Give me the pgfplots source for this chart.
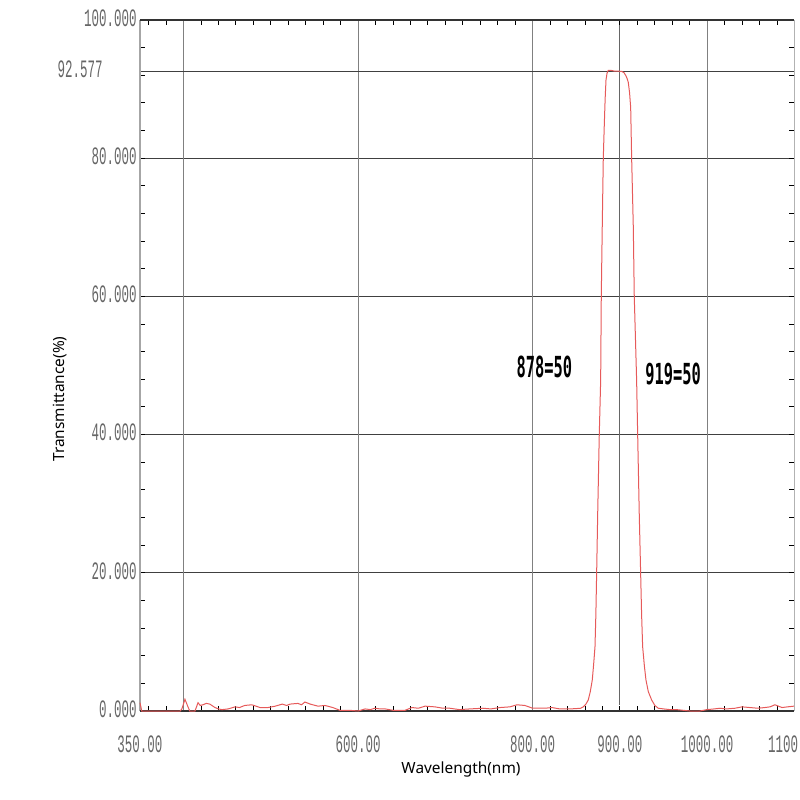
\documentclass[border=0pt]{standalone}
\usepackage{pgfplots}
\pgfplotsset{compat=1.18}
\usepackage{fontspec}
\setmainfont{Noto Sans}
\newfontfamily\tickfont[FakeStretch=0.5]{Liberation Mono}
\newfontfamily\annfont[FakeStretch=0.53]{DejaVu Sans Mono}
\definecolor{curvered}{RGB}{230,90,90}
\begin{document}
\begin{tikzpicture}
\path[use as bounding box] (0,0) rectangle (400pt,400pt);
\clip (0,0) rectangle (400pt,400pt);
\begin{axis}[
  at={(70pt,44.5pt)}, anchor=south west,
  scale only axis, width=327.25pt, height=345.5pt,
  xmin=350, xmax=1100, ymin=0, ymax=100,
  clip=false,
  axis line style={draw=none},
  xtick={350,600,800,900,1000,1100},
  xticklabels={350.00,600.00,800.00,900.00,1000.00,1100.00},
  ytick={0,20,40,60,80,100},
  yticklabels={0.000,20.000,40.000,60.000,80.000,100.000},
  major tick length=0pt,
  minor xtick={360,380,...,1080},
  minor ytick={4,8,...,96},
  minor tick length=2.5pt,
  tick align=inside,
  tick style={black, line width=0.5pt},
  ymajorgrids=true,
  major grid style={black!75, line width=0.6pt},
  extra x ticks={400,600,800,1000},
  extra x tick labels={},
  extra x tick style={xmajorgrids=true, major grid style={black!50, line width=0.55pt}},
  extra y ticks={92.577},
  extra y tick labels={92.577},
  extra y tick style={ymajorgrids=true, yticklabel style={xshift=-17pt}},
  xticklabel style={font={\fontsize{12.5pt}{13pt}\tickfont}, text=black!60, anchor=north, inner sep=0pt, yshift=-12pt},
  yticklabel style={font={\fontsize{12.5pt}{13pt}\tickfont}, text=black!60, anchor=east, inner sep=0pt, xshift=-1.5pt, yshift=1pt},
]
\draw[black!35, line width=1.1pt] (rel axis cs:0,0) -- (rel axis cs:0,1);
\draw[black!80, line width=0.7pt] (rel axis cs:0,1) -- (rel axis cs:1,1);
\draw[black!80, line width=0.7pt] (rel axis cs:0,0) -- (rel axis cs:1,0);
\draw[black!30, line width=0.5pt] (rel axis cs:1,0) -- (rel axis cs:1,1);
\addplot[black!60, line width=0.5pt] coordinates {(899.5,0.9) (899.5,99.3)};
\addplot[curvered, line width=0.5pt] coordinates {
(350,1.2) (352,0.0) (396,0.0) (398,0.3) (401.5,1.7) (405,0.6) (407,0.0) (413,0.0)
(416.5,1.2) (419,0.8) (422,0.9) (426,1.1) (430,1.0) (436,0.5) (440,0.3) (444,0.2) (451,0.3)
(459,0.6) (464,0.5) (470,0.8) (478,0.9) (483,0.7) (487.5,0.5) (496.7,0.5) (505,0.7)
(513,1.0) (518,0.8) (522,1.0) (531,1.1) (535,0.9) (539,1.3) (545,1.0) (554,0.7)
(562,0.8) (571,0.5) (579,0.1) (590,0.1) (600,0.0) (608,0.3) (614,0.2) (619,0.4)
(625,0.3) (631,0.3) (640,0.1) (653.7,0.1) (661.7,0.5) (669,0.4) (676.6,0.7) (688,0.6)
(697,0.4) (705,0.4) (716,0.2) (728,0.3) (743,0.4) (752,0.3) (762.6,0.5) (774,0.6)
(782,0.9) (791,0.8) (800,0.4) (814,0.4) (822,0.5) (831,0.3) (842.7,0.3) (850,0.35)
(855,0.4) (858,0.6) (861,1.0) (863.7,1.6) (866,2.8) (868.3,4.5) (870,7) (871.4,9.3)
(872.4,14) (873.3,20) (874.5,28.6) (876.3,40) (877.9,47.9) (878.6,60) (879.7,70)
(880.9,80) (882.0,84.6) (883.0,88.5) (884.0,91.3) (885.2,92.3) (886.6,92.7) (890,92.7)
(894,92.6) (898,92.6) (902,92.55) (904.5,92.4) (906.5,92.0) (908,91.6) (909.5,91)
(911,89.5) (912.3,87.3) (913.4,80) (915.3,70) (916.4,60) (919.1,47.9) (920.3,40)
(922.1,28.6) (923.7,20) (924.8,14) (926.0,9.3) (928,6.5) (929.8,4.5) (932.5,2.8)
(936.3,1.6) (940,0.8) (943.9,0.4) (950,0.3) (957.3,0.2)
(965,0.2) (980,0.0) (991.7,0.0) (999.7,0.2) (1008,0.3) (1014.6,0.4) (1022,0.3)
(1031.8,0.4) (1040,0.6) (1049,0.5) (1058,0.4) (1066,0.5) (1072,0.6) (1077.6,0.9)
(1085.7,0.5) (1092,0.6) (1099.4,0.7)
};
\node[font={\fontsize{14.5pt}{15pt}\annfont\bfseries}, inner sep=0pt] at (axis cs:813.5,49.8) {878=50};
\node[font={\fontsize{14.5pt}{15pt}\annfont\bfseries}, inner sep=0pt] at (axis cs:960.8,48.8) {919=50};
\end{axis}
\node[font=\fontsize{7.7pt}{9pt}\selectfont, inner sep=0pt] at (230.5pt,15.5pt) {Wavelength(nm)};
\node[font=\fontsize{7.7pt}{9pt}\selectfont, inner sep=0pt, rotate=90] at (30pt,200.5pt) {Transmittance(\%)};
\end{tikzpicture}
\end{document}
